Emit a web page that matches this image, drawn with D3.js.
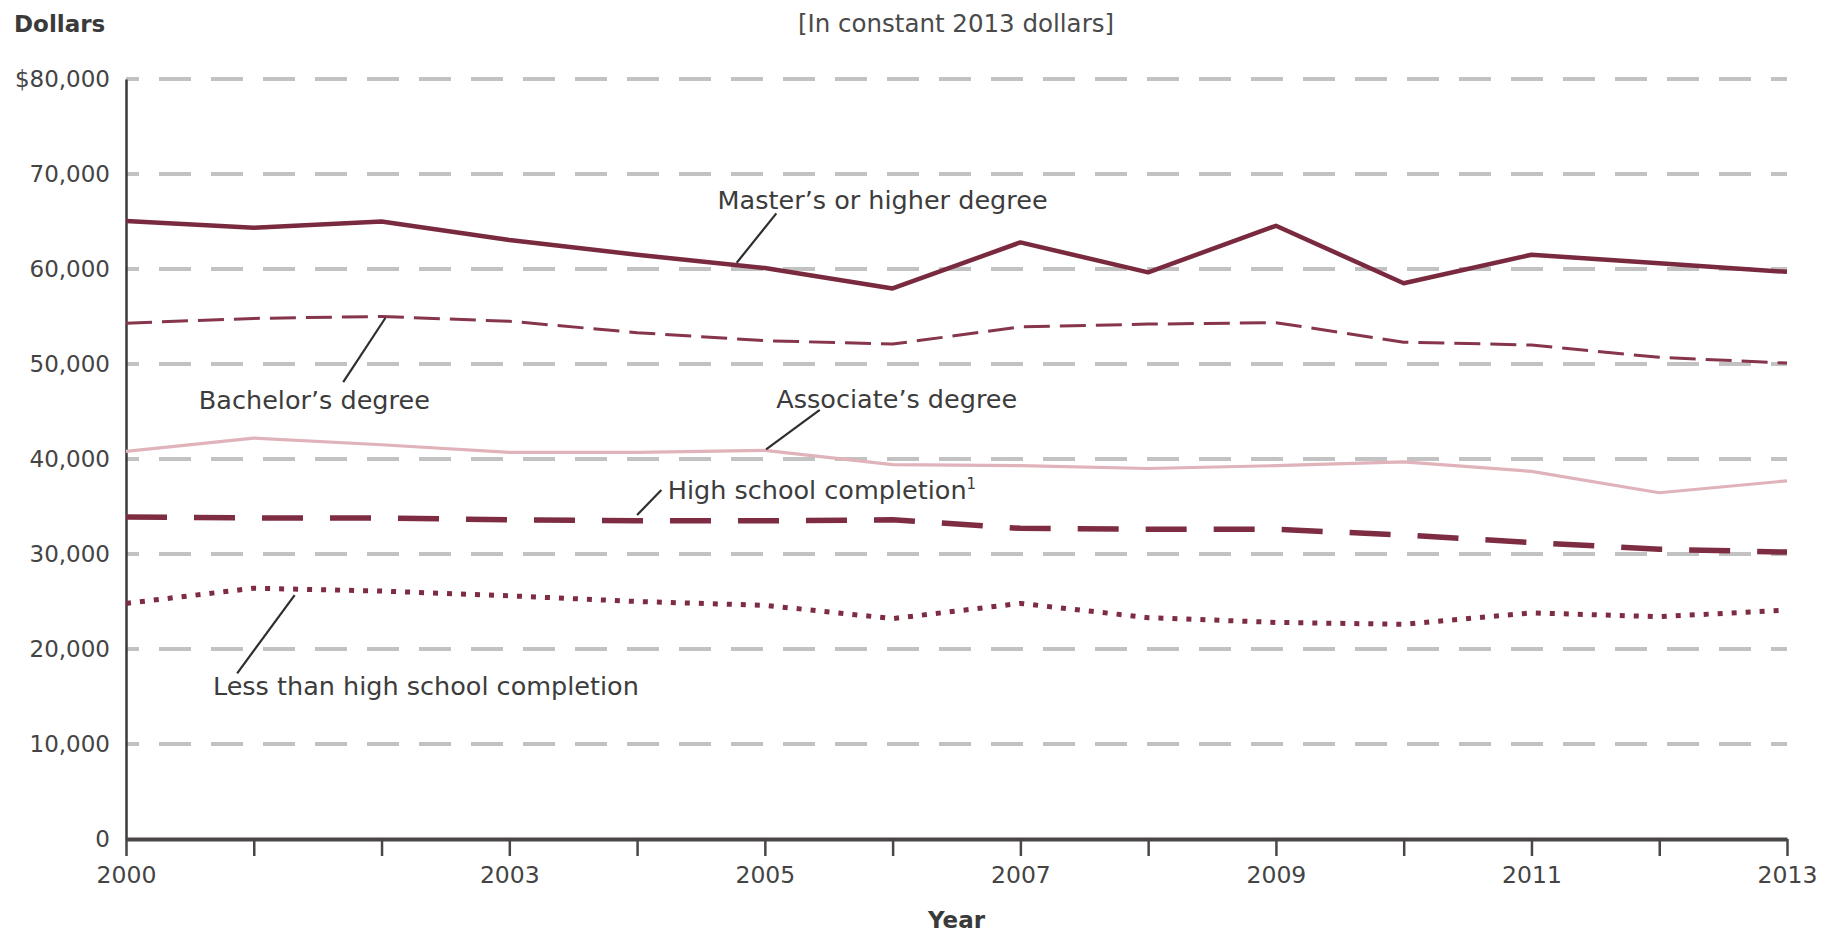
<!DOCTYPE html>
<html>
<head>
<meta charset="utf-8">
<script src="https://cdn.jsdelivr.net/npm/d3@7"></script>
<style>
  body { margin: 0; background: #fff; }
  text { font-family: "DejaVu Sans", sans-serif; }
</style>
</head>
<body>
<div id="chart"></div>
<script>
// Median earnings by educational attainment, in constant 2013 dollars
const years = [2000, 2001, 2002, 2003, 2004, 2005, 2006, 2007, 2008, 2009, 2010, 2011, 2012, 2013];
const labeledYears = [2000, 2003, 2005, 2007, 2009, 2011, 2013];
const yTicks = [0, 10000, 20000, 30000, 40000, 50000, 60000, 70000, 80000];

const masters    = [65050, 64350, 65000, 63050, 61500, 60100, 57950, 62800, 59650, 64550, 58500, 61500, 60600, 59700];
const bachelors  = [54300, 54800, 55000, 54500, 53300, 52450, 52100, 53900, 54200, 54350, 52300, 52000, 50700, 50100];
const associates = [40800, 42200, 41500, 40700, 40700, 40900, 39400, 39300, 39000, 39300, 39700, 38700, 36450, 37700];
const highSchool = [33900, 33800, 33800, 33600, 33500, 33500, 33600, 32700, 32600, 32600, 32000, 31200, 30500, 30200];
const lessThanHS = [24800, 26400, 26100, 25600, 25000, 24600, 23200, 24800, 23300, 22800, 22600, 23800, 23400, 24100];

const width = 1833, height = 932;
const marginLeft = 126, marginRight = 46, marginTop = 79, marginBottom = 93;

const x = d3.scaleLinear().domain([2000, 2013]).range([marginLeft, width - marginRight]);
const y = d3.scaleLinear().domain([0, 80000]).range([height - marginBottom, marginTop]);

const svg = d3.select("#chart").append("svg")
    .attr("width", width)
    .attr("height", height)
    .attr("viewBox", [0, 0, width, height]);

// gridlines
svg.append("g")
  .selectAll("line")
  .data(yTicks.filter(d => d > 0))
  .join("line")
    .attr("x1", x(2000))
    .attr("x2", x(2013))
    .attr("y1", d => y(d))
    .attr("y2", d => y(d))
    .attr("stroke", "#c2c2c2")
    .attr("stroke-width", 4)
    .attr("stroke-dasharray", "32,20")
    .attr("stroke-dashoffset", 19);

// y axis
svg.append("g")
    .attr("transform", `translate(${marginLeft},0)`)
    .call(d3.axisLeft(y).tickValues(yTicks).tickSize(0).tickPadding(16)
      .tickFormat(d => d === 80000 ? "$80,000" : d3.format(",")(d)))
    .call(g => g.select(".domain").attr("stroke", "#3a3a3a").attr("stroke-width", 2.5))
    .call(g => g.selectAll(".tick text")
      .attr("font-size", 23)
      .attr("fill", "#444")
      .attr("font-family", "DejaVu Sans"));

// x axis
svg.append("g")
    .attr("transform", `translate(0,${y(0)})`)
    .call(d3.axisBottom(x).tickValues(years).tickSize(17).tickPadding(10)
      .tickSizeOuter(0)
      .tickFormat(d => labeledYears.includes(d) ? String(d) : ""))
    .call(g => g.select(".domain").attr("stroke", "#4a4646").attr("stroke-width", 4))
    .call(g => g.selectAll(".tick line").attr("stroke", "#4a4646").attr("stroke-width", 2.5))
    .call(g => g.selectAll(".tick text")
      .attr("font-size", 23.5)
      .attr("fill", "#444")
      .attr("font-family", "DejaVu Sans"));

// titles
svg.append("text")
    .attr("x", 14).attr("y", 32)
    .attr("font-size", 23).attr("font-weight", "bold").attr("fill", "#3a3a3a")
    .text("Dollars");

svg.append("text")
    .attr("x", 956).attr("y", 32)
    .attr("text-anchor", "middle")
    .attr("font-size", 24.5).attr("fill", "#4a4a4a")
    .text("[In constant 2013 dollars]");

svg.append("text")
    .attr("x", (x(2000) + x(2013)) / 2).attr("y", 928)
    .attr("text-anchor", "middle")
    .attr("font-size", 23).attr("font-weight", "bold").attr("fill", "#3a3a3a")
    .text("Year");

// series
const series = [
  {name: "Less than high school completion", values: lessThanHS, color: "#7d2c42", width: 5, dash: "5,9"},
  {name: "High school completion", values: highSchool, color: "#7d2c42", width: 5.5, dash: "41,27"},
  {name: "Associate's degree", values: associates, color: "#dfb3b9", width: 3.2, dash: null},
  {name: "Bachelor's degree", values: bachelors, color: "#86354b", width: 3, dash: "26,10"},
  {name: "Master's or higher degree", values: masters, color: "#7a2a3f", width: 4.5, dash: null}
];

const line = d3.line()
    .x((d, i) => x(years[i]))
    .y(d => y(d));

svg.append("g")
    .attr("fill", "none")
  .selectAll("path")
  .data(series)
  .join("path")
    .attr("d", d => line(d.values))
    .attr("stroke", d => d.color)
    .attr("stroke-width", d => d.width)
    .attr("stroke-dasharray", d => d.dash)
    .attr("stroke-linejoin", "round");

// labels with leader lines (positions in data units)
const annotations = [
  {text: "Master\u2019s or higher degree", tx: 2004.63, ty: 66300, x1: 2005.09, y1: 65860, x2: 2004.78, y2: 60660},
  {text: "Bachelor\u2019s degree", tx: 2000.57, ty: 45260, x1: 2002.03, y1: 54840, x2: 2001.70, y2: 48100},
  {text: "Associate\u2019s degree", tx: 2005.09, ty: 45400, x1: 2005.43, y1: 45160, x2: 2005.01, y2: 41020},
  {text: "High school completion", sup: "1", tx: 2004.24, ty: 35760, x1: 2004.19, y1: 36740, x2: 2004.00, y2: 34100},
  {text: "Less than high school completion", tx: 2000.68, ty: 15160, x1: 2001.32, y1: 25680, x2: 2000.87, y2: 17440}
];

const ann = svg.append("g").selectAll("g").data(annotations).join("g");

ann.append("line")
    .attr("x1", d => x(d.x1)).attr("y1", d => y(d.y1))
    .attr("x2", d => x(d.x2)).attr("y2", d => y(d.y2))
    .attr("stroke", "#2e2e2e")
    .attr("stroke-width", 2.2);

ann.append("text")
    .attr("x", d => x(d.tx))
    .attr("y", d => y(d.ty))
    .attr("font-size", 25.5)
    .attr("fill", "#3c3c3c")
    .each(function(d) {
      const t = d3.select(this);
      t.append("tspan").text(d.text);
      if (d.sup) t.append("tspan").attr("font-size", 15).attr("dy", -10).text(d.sup);
    });
</script>
</body>
</html>
